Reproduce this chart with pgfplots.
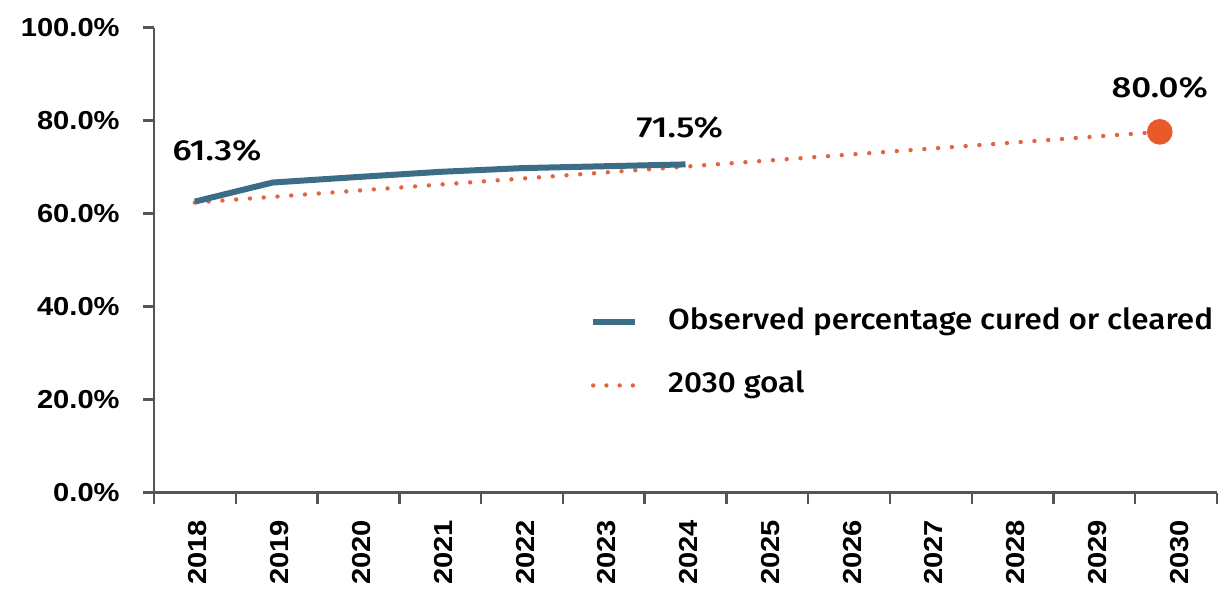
\documentclass[border=0pt]{standalone}
\usepackage{pgfplots}
\pgfplotsset{compat=1.18}
\usepackage{fontspec}
\IfFontExistsTF{Fira Sans Medium}{\def\fname{Fira Sans Medium}}{\def\fname{Fira Sans}}
\setmainfont{\fname}
\newfontfamily\labfont{\fname}[FakeStretch=1.2]
\newfontfamily\legfont{\fname}[FakeStretch=1.085]
\newfontfamily\tickfont{Liberation Sans}[FakeStretch=1.12]
\definecolor{obs}{HTML}{3B6E86}
\definecolor{goal}{HTML}{E0663F}
\definecolor{dotc}{HTML}{E85A2A}
\definecolor{axgray}{HTML}{555555}
\begin{document}
\begin{tikzpicture}
\begin{axis}[
  scale only axis,
  width=531.5pt, height=232.5pt,
  xmin=-0.5, xmax=12.5, ymin=0, ymax=100,
  axis lines*=left,
  axis line style={axgray, line width=1.2pt},
  tick align=outside,
  major tick length=5.5pt,
  tick style={axgray, line width=1.2pt},
  xtick={-0.5,0.5,...,12.5},
  xticklabels={2018,2019,2020,2021,2022,2023,2024,2025,2026,2027,2028,2029,2030,{}},
  xticklabel style={font=\tickfont\bfseries\fontsize{13}{13}\selectfont, xshift=22pt, rotate=90, anchor=east, inner sep=0pt},
  xticklabel shift=8pt,
  ytick={0,20,40,60,80,100},
  yticklabels={0.0\%,20.0\%,40.0\%,60.0\%,80.0\%,100.0\%},
  yticklabel style={font=\tickfont\bfseries\fontsize{13}{13}\selectfont, anchor=east, inner sep=0pt},
  yticklabel shift=11.5pt,
  clip=false,
  reverse legend,
  legend style={draw=none, fill=none, at={(rel axis cs:0.41,0.396)}, anchor=north west,
    font=\legfont\fontsize{14.5}{14.5}\selectfont, row sep=18pt, inner sep=0pt,
    nodes={inner sep=0pt, text height=10.5pt, text depth=3pt}},
  legend cell align=left,
  /tikz/every odd column/.append style={column sep=15pt},
]
\addplot[goal, line width=2.2pt, line cap=round, dash pattern=on 0pt off 6.9pt,
  legend image code/.code={\draw[goal, line width=2.2pt, line cap=round, dash pattern=on 0pt off 6.6pt] (0pt,0pt) -- (21pt,0pt);}]
  coordinates {(0,62.4) (11.8,77.6)};
\addlegendentry{2030 goal}
\addplot[obs, line width=3pt,
  legend image code/.code={\draw[obs, line width=3pt] (0pt,0pt) -- (21pt,0pt);}]
  coordinates {(0,62.6) (0.95,66.7) (2,67.9) (3,69.0) (4,69.8) (5,70.2) (6,70.6)};
\addlegendentry{Observed percentage cured or cleared}
\addplot[only marks, mark=*, mark size=6.2pt, mark options={dotc, fill=dotc}, forget plot]
  coordinates {(11.8,77.6)};
\node[font=\labfont\fontsize{14.5}{14.5}\selectfont] at (axis cs:0.27,73.5) {61.3\%};
\node[font=\labfont\fontsize{14.5}{14.5}\selectfont] at (axis cs:5.93,78.4) {71.5\%};
\node[font=\labfont\fontsize{14.5}{14.5}\selectfont] at (axis cs:11.8,87.0) {80.0\%};
\coordinate (SW) at (rel axis cs:0,0);
\coordinate (NE) at (rel axis cs:1,1);
\end{axis}
\pgfresetboundingbox
\path[use as bounding box] ([xshift=-77pt,yshift=-49.65pt]SW) rectangle ([xshift=1.5pt,yshift=13.85pt]NE);
\end{tikzpicture}
\end{document}
